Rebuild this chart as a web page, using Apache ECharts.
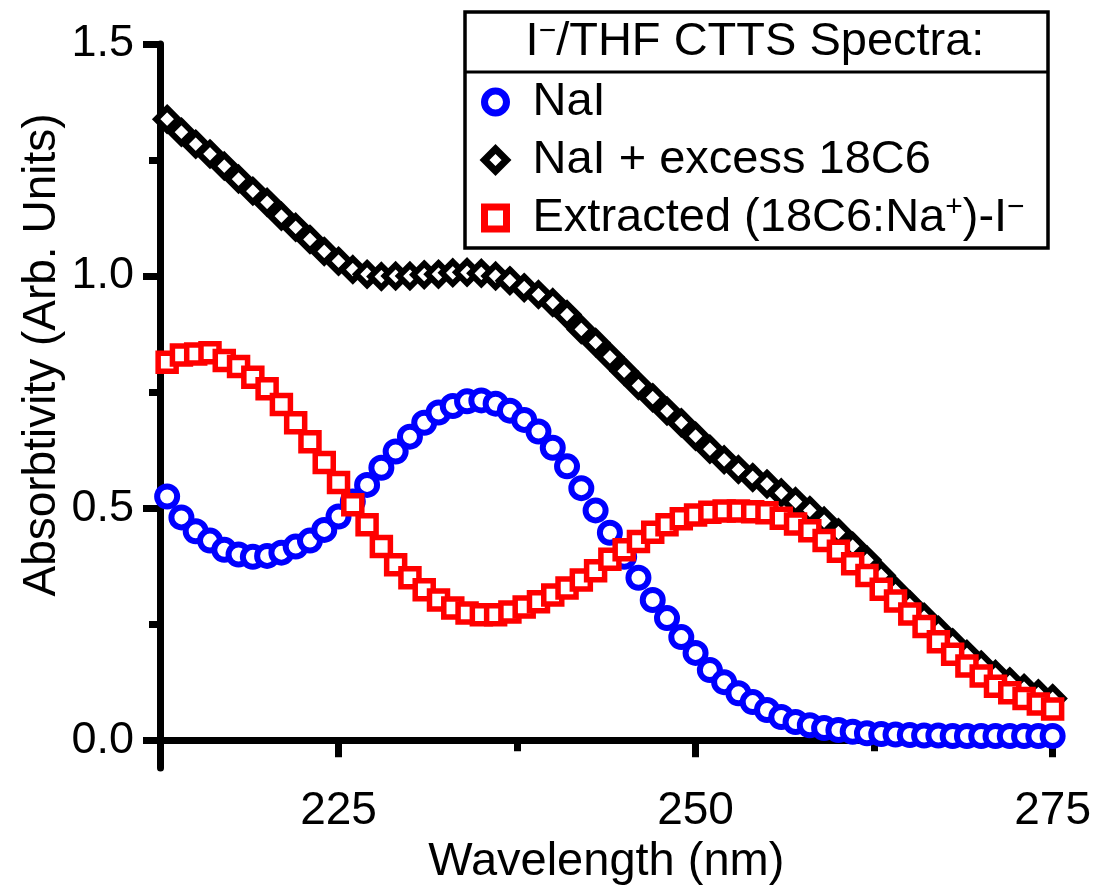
<!DOCTYPE html>
<html>
<head>
<meta charset="utf-8">
<script src="https://cdn.jsdelivr.net/npm/echarts@6/dist/echarts.min.js"></script>
<style>html,body{margin:0;padding:0;background:#fff}#c{width:1094px;height:896px}</style>
</head>
<body>
<div id="c"></div>
<script>
var wavelengths = [213,214,215,216,217,218,219,220,221,222,223,224,225,226,227,228,229,230,231,232,233,234,235,236,237,238,239,240,241,242,243,244,245,246,247,248,249,250,251,252,253,254,255,256,257,258,259,260,261,262,263,264,265,266,267,268,269,270,271,272,273,274,275];
var naI = [0.525,0.48,0.45,0.43,0.41,0.40,0.395,0.397,0.404,0.417,0.43,0.453,0.482,0.514,0.55,0.587,0.622,0.654,0.684,0.706,0.72,0.73,0.732,0.725,0.71,0.69,0.665,0.63,0.59,0.543,0.495,0.447,0.395,0.35,0.302,0.263,0.222,0.188,0.151,0.125,0.101,0.082,0.065,0.05,0.039,0.032,0.026,0.022,0.018,0.015,0.013,0.012,0.011,0.01,0.01,0.009,0.009,0.009,0.009,0.009,0.009,0.009,0.009];
var naIExcess18C6 = [1.338,1.31,1.284,1.263,1.237,1.209,1.183,1.159,1.129,1.105,1.079,1.053,1.032,1.014,1.004,0.999,1.0,1.0,1.003,1.004,1.007,1.008,1.006,1.0,0.99,0.975,0.96,0.943,0.917,0.885,0.857,0.826,0.795,0.764,0.738,0.709,0.684,0.655,0.627,0.604,0.583,0.566,0.552,0.533,0.514,0.495,0.472,0.447,0.418,0.388,0.355,0.322,0.292,0.265,0.237,0.21,0.185,0.162,0.142,0.126,0.112,0.1,0.09];
var extracted = [0.814,0.83,0.832,0.835,0.818,0.805,0.782,0.757,0.723,0.684,0.643,0.598,0.555,0.507,0.464,0.417,0.378,0.35,0.324,0.302,0.285,0.274,0.27,0.27,0.276,0.287,0.298,0.313,0.328,0.345,0.365,0.39,0.41,0.428,0.448,0.464,0.477,0.485,0.491,0.494,0.494,0.492,0.49,0.478,0.466,0.451,0.43,0.407,0.38,0.355,0.325,0.3,0.272,0.245,0.212,0.185,0.16,0.138,0.116,0.102,0.09,0.078,0.067];
var xMajorTicks = [225,250,275];
var xMinorTicks = [212.5,237.5,262.5];
var yMajorTicks = [0,0.5,1.0,1.5];
var yMinorTicks = [0.25,0.75,1.25];
var seriesNames = ['NaI','NaI + excess 18C6','Extracted (18C6:Na+)-I-'];

var FONT = "'Liberation Sans', Arial, sans-serif";
function pairs(xs, ys){ return xs.map(function(x,i){ return [x, ys[i]]; }); }

var chart = echarts.init(document.getElementById('c'), null, {renderer:'canvas'});
function axisLineCfg(){ return {show:true, lineStyle:{color:'#000', width:7, opacity:1}}; }
function tickCfg(vals, len){ return {show:true, customValues:vals, length:len, inside:false, lineStyle:{color:'#000', width:7, opacity:1}}; }
var option = {
  animation:false,
  backgroundColor:'#fff',
  grid:{left:160, right:38, top:44, bottom:128, containLabel:false},
  xAxis:[{
    type:'value', min:212.5, max:275,
    axisLine:axisLineCfg(),
    axisTick:tickCfg(xMajorTicks, 17),
    axisLabel:{show:true, customValues:xMajorTicks, margin:20, color:'#000', fontSize:46, fontFamily:FONT},
    splitLine:{show:false},
    name:'Wavelength (nm)', nameLocation:'middle', nameGap:64,
    nameTextStyle:{color:'#000', fontSize:47, fontFamily:FONT}
  },{
    type:'value', min:212.5, max:275, position:'bottom',
    axisLine:{show:false},
    axisTick:tickCfg(xMinorTicks, 11),
    axisLabel:{show:false}, splitLine:{show:false}
  }],
  yAxis:[{
    type:'value', min:-0.06, max:1.5,
    axisLine:axisLineCfg(),
    axisTick:tickCfg(yMajorTicks, 17),
    axisLabel:{show:true, customValues:yMajorTicks, margin:26, color:'#000', fontSize:45, fontFamily:FONT,
      formatter:function(v){ return v.toFixed(1); }},
    splitLine:{show:false}
  },{
    type:'value', min:-0.06, max:1.5, position:'left',
    axisLine:{show:false},
    axisTick:tickCfg(yMinorTicks, 11),
    axisLabel:{show:false}, splitLine:{show:false}
  }],
  legend:{
    orient:'vertical', left:481, top:77, padding:0, itemGap:8,
    itemWidth:22, itemHeight:22,
    selectedMode:false,
    itemStyle:{borderWidth:7, opacity:1},
    data:seriesNames,
    textStyle:{color:'#000', fontSize:47, fontFamily:FONT, lineHeight:50, padding:[0,0,0,21],
      rich:{
        t:{fontSize:47, fontFamily:FONT, color:'#000', lineHeight:50},
        s:{fontSize:30, fontFamily:FONT, color:'#000', lineHeight:50, verticalAlign:'top'}
      }},
    formatter:function(n){
      if(n.indexOf('Extracted')===0){ return '{t|Extracted (18C6:Na}{s|+}{t|)-I}{s|\u2212}'; }
      return '{t|' + n + '}';
    }
  },
  graphic:[
    {type:'rect', shape:{x:465, y:12, width:583, height:236}, style:{fill:'#fff', stroke:'#000', lineWidth:3.5}, z:-1},
    {type:'line', shape:{x1:465, y1:72, x2:1048, y2:72}, style:{stroke:'#000', lineWidth:3}},
    {type:'text', x:755, y:42, style:{
      text:'{t|I}{s|\u2212}{t|/THF CTTS Spectra:}', align:'center', verticalAlign:'middle',
      rich:{
        t:{fontSize:47, fontFamily:FONT, fill:'#000', lineHeight:50},
        s:{fontSize:30, fontFamily:FONT, fill:'#000', lineHeight:50, verticalAlign:'top'}
      }}},
    {type:'text', x:42, y:355, rotation:Math.PI/2, style:{
      text:'Absorbtivity (Arb. Units)', fontSize:46, fontFamily:FONT, fill:'#000', align:'center', verticalAlign:'middle'}}
  ],
  series:[
    {name:seriesNames[0], type:'scatter', data:pairs(wavelengths, naI), symbol:'circle', symbolSize:20,
     itemStyle:{color:'#fff', borderColor:'#0000ff', borderWidth:6, opacity:1}, emphasis:{disabled:true}},
    {name:seriesNames[1], type:'scatter', data:pairs(wavelengths, naIExcess18C6), symbol:'diamond', symbolSize:22,
     itemStyle:{color:'#fff', borderColor:'#000', borderWidth:6, opacity:1}, emphasis:{disabled:true}},
    {name:seriesNames[2], type:'scatter', data:pairs(wavelengths, extracted), symbol:'rect', symbolSize:18,
     itemStyle:{color:'#fff', borderColor:'#ff0000', borderWidth:5.5, opacity:1}, emphasis:{disabled:true}}
  ]
};
chart.setOption(option);
</script>
</body>
</html>
